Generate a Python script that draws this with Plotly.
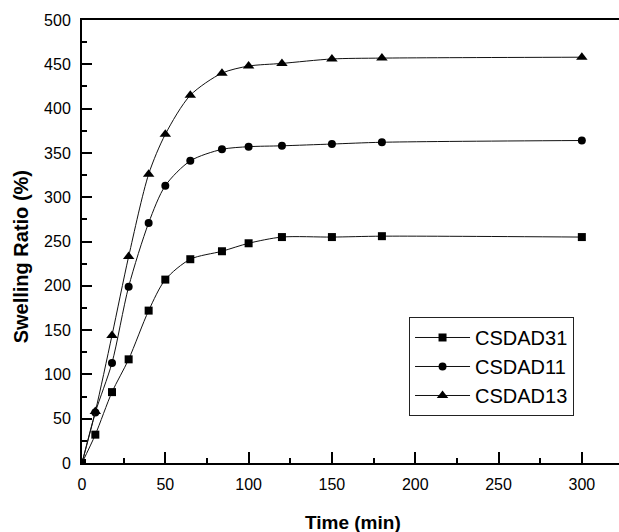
import plotly.graph_objects as go

time_min = [0, 8, 18, 28, 40, 50, 65, 84, 100, 120, 150, 180, 300]
csdad31 = [0, 32, 80, 117, 172, 207, 230, 239, 248, 255, 255, 256, 255]
csdad11 = [0, 57, 113, 199, 271, 313, 341, 354, 357, 358, 360, 362, 364]
csdad13 = [0, 58, 144, 233, 326, 371, 415, 440, 448, 451, 456, 457, 458]

series = [
    ("CSDAD31", csdad31, "square", 8),
    ("CSDAD11", csdad11, "circle", 8),
    ("CSDAD13", csdad13, "triangle-up", 10),
]

fig = go.Figure()
for name, vals, sym, sz in series:
    fig.add_trace(go.Scatter(
        x=time_min, y=vals, name=name, mode="lines+markers",
        line=dict(color="#111111", width=1, shape="spline", smoothing=0.8),
        marker=dict(symbol=sym, size=sz, color="#000000"),
    ))

fig.update_layout(
    width=619, height=532,
    margin=dict(l=82, r=0, t=20, b=69),
    paper_bgcolor="white", plot_bgcolor="white",
    font=dict(family="Liberation Sans, Arial, sans-serif", color="#000000"),
    showlegend=True,
    legend=dict(
        x=0.609, y=0.3296, xanchor="left", yanchor="top",
        bordercolor="#222222", borderwidth=1, bgcolor="white",
        font=dict(size=20), itemwidth=55, tracegroupgap=0,
    ),
)

fig.update_xaxes(
    range=[0, 322.3], showgrid=False, zeroline=False,
    showline=True, linecolor="black", linewidth=2, mirror=True,
    ticks="inside", ticklen=11, tickwidth=2, tickcolor="black",
    tick0=0, dtick=50, tickfont=dict(size=16), ticklabelstandoff=6,
    minor=dict(ticks="inside", ticklen=5, tickwidth=2, tickcolor="black", dtick=25),
)
fig.update_yaxes(
    range=[0, 500], showgrid=False, zeroline=False,
    showline=True, linecolor="black", linewidth=2, mirror=False,
    ticks="inside", ticklen=10, tickwidth=2, tickcolor="black",
    tick0=0, dtick=50, tickfont=dict(size=16), ticklabelstandoff=6,
    minor=dict(ticks="inside", ticklen=5, tickwidth=2, tickcolor="black", dtick=25),
)

fig.add_annotation(
    text="<b>Time (min)</b>", xref="paper", yref="paper",
    x=0.505, y=-0.134, xanchor="center", yanchor="middle", showarrow=False,
    font=dict(size=19),
)
fig.add_annotation(
    text="<b>Swelling Ratio (%)</b>", xref="paper", yref="paper",
    x=-0.114, y=0.466, xanchor="center", yanchor="middle", showarrow=False,
    textangle=-90, font=dict(size=20),
)

fig.write_html("out.html")
